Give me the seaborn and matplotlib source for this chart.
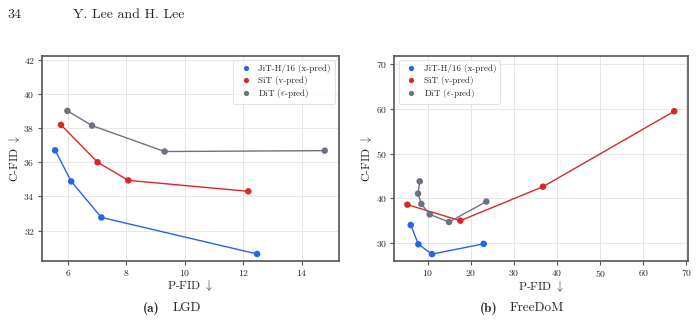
import numpy as np
import pandas as pd
import matplotlib
matplotlib.use("Agg")
import matplotlib.pyplot as plt
import seaborn as sns

# Data
models = ["JiT-H/16 (x-pred)", "SiT (v-pred)", r"DiT ($\epsilon$-pred)"]
colors = ["#2563eb", "#dc2626", "#6b7280"]

# (a) LGD
lgd_jit_p = [5.57, 6.12, 7.15, 12.47]
lgd_jit_c = [36.70, 34.88, 32.77, 30.63]
lgd_sit_p = [5.77, 7.02, 8.07, 12.17]
lgd_sit_c = [38.19, 36.00, 34.94, 34.30]
lgd_dit_p = [5.99, 6.83, 9.31, 14.78]
lgd_dit_c = [39.01, 38.15, 36.63, 36.68]

# (b) FreeDoM
fdm_jit_p = [5.98, 7.76, 10.93, 22.93]
fdm_jit_c = [34.02, 29.70, 27.50, 29.80]
fdm_sit_p = [5.20, 17.50, 36.70, 67.20]
fdm_sit_c = [38.58, 34.99, 42.60, 59.50]
fdm_dit_p = [8.07, 7.68, 8.45, 10.39, 14.88, 23.55]
fdm_dit_c = [43.80, 41.05, 38.73, 36.40, 34.70, 39.26]


def make_df(series):
    rows = []
    for name, (p, c) in zip(models, series):
        for i, (pv, cv) in enumerate(zip(p, c)):
            rows.append({"model": name, "P-FID": pv, "C-FID": cv, "order": i})
    return pd.DataFrame(rows)


df_lgd = make_df([(lgd_jit_p, lgd_jit_c), (lgd_sit_p, lgd_sit_c), (lgd_dit_p, lgd_dit_c)])
df_fdm = make_df([(fdm_jit_p, fdm_jit_c), (fdm_sit_p, fdm_sit_c), (fdm_dit_p, fdm_dit_c)])

sns.set_style("whitegrid", {"grid.color": "#e6e6e6", "axes.edgecolor": "#555555"})
plt.rcParams["font.family"] = "serif"
plt.rcParams["font.serif"] = ["cmr10", "DejaVu Serif"]
plt.rcParams["mathtext.fontset"] = "cm"
plt.rcParams["axes.formatter.use_mathtext"] = True
plt.rcParams["axes.unicode_minus"] = False

palette = dict(zip(models, colors))

fig = plt.figure(figsize=(6.98, 3.23), dpi=100)
ax1 = fig.add_axes([0.0597, 0.192, 0.426, 0.635])
ax2 = fig.add_axes([0.5645, 0.192, 0.4212, 0.635])


def draw(ax, df, xlim, ylim, loc):
    sns.lineplot(data=df, x="P-FID", y="C-FID", hue="model", palette=palette,
                 sort=False, estimator=None, units="model", linewidth=1.0,
                 legend=False, ax=ax)
    sns.scatterplot(data=df, x="P-FID", y="C-FID", hue="model", palette=palette,
                    s=22, edgecolor="none", zorder=3, ax=ax)
    ax.set_xlim(*xlim)
    ax.set_ylim(*ylim)
    ax.set_xlabel(r"P-FID $\downarrow$", fontsize=8.5, labelpad=0)
    ax.set_ylabel(r"C-FID $\downarrow$", fontsize=8.5, labelpad=1)
    ax.tick_params(axis="both", labelsize=7, length=3, width=0.8,
                   color="#555555", pad=2, bottom=True, left=True)
    for s in ax.spines.values():
        s.set_linewidth(1.2)
        s.set_color("#555555")
    ax.grid(True, linewidth=0.7)
    leg = ax.legend(loc=loc, fontsize=6.5, frameon=True, handletextpad=0.4,
                    borderpad=0.4, labelspacing=0.3, markerscale=0.8)
    leg.get_frame().set_edgecolor("#dddddd")
    leg.get_frame().set_linewidth(0.8)


draw(ax1, df_lgd, (5.11, 15.27), (30.22, 42.23), "upper right")
ax1.set_xticks([6, 8, 10, 12, 14])
ax1.set_yticks([32, 34, 36, 38, 40, 42])

draw(ax2, df_fdm, (2.1, 70.4), (25.96, 71.9), "upper left")
ax2.set_xticks([10, 20, 30, 40, 50, 60, 70])
ax2.set_yticks([30, 40, 50, 60, 70])

# page header and sub-captions
fig.text(0.010, 0.953, "34", fontsize=10, va="center")
fig.text(0.105, 0.953, "Y. Lee and H. Lee", fontsize=10, va="center")
fig.text(0.205, 0.046, "(a)", fontsize=9.5, family="cmb10", va="center")
fig.text(0.2475, 0.046, "LGD", fontsize=9.5, va="center")
fig.text(0.688, 0.046, "(b)", fontsize=9.5, family="cmb10", va="center")
fig.text(0.7307, 0.046, "FreeDoM", fontsize=9.5, va="center")

fig.savefig("out.png", dpi=100)
